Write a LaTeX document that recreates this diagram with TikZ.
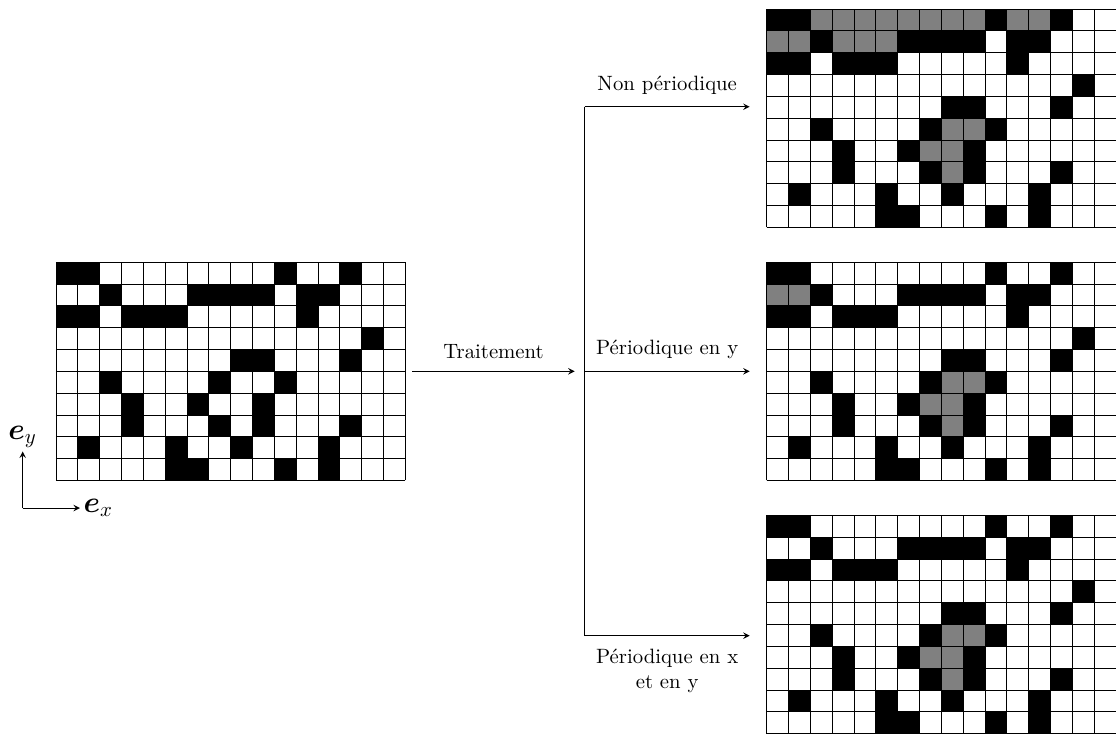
\documentclass[tikz,border=0pt]{standalone}
\usepackage{amsmath}
\usepackage{amssymb}
\usepackage{tikz}

% cases noires (colonne/ligne, ligne 1 en haut)
\newcommand{\noires}{1/1,2/1,11/1,14/1,
  3/2,7/2,8/2,9/2,10/2,12/2,13/2,
  1/3,2/3,4/3,5/3,6/3,12/3,
  15/4,
  9/5,10/5,14/5,
  3/6,8/6,11/6,
  4/7,7/7,10/7,
  4/8,8/8,10/8,14/8,
  2/9,6/9,9/9,13/9,
  6/10,7/10,11/10,13/10}
% pores isoles au centre
\newcommand{\trous}{9/6,10/6,8/7,9/7,9/8}

\begin{document}
\begin{tikzpicture}[x=0.37cm, y=0.37cm,
    noire/.style={fill=black}, grise/.style={fill=gray},
    etiq/.style={font=\Large, inner sep=1.5pt}]
  \useasboundingbox (-2.564,-11.6) rectangle (48.56,22.01);

  % grille initiale
  \foreach \c/\r in \noires {\fill[noire] (\c-1,10-\r) rectangle (\c,11-\r);}
  \draw[step=1] (0,0) grid (16,10);

  % non periodique
  \begin{scope}[shift={(32.56,11.6)}]
    \foreach \c/\r in \noires {\fill[noire] (\c-1,10-\r) rectangle (\c,11-\r);}
    \foreach \c/\r in {3/1,4/1,5/1,6/1,7/1,8/1,9/1,10/1,12/1,13/1,1/2,2/2,4/2,5/2,6/2}
      {\fill[grise] (\c-1,10-\r) rectangle (\c,11-\r);}
    \foreach \c/\r in \trous {\fill[grise] (\c-1,10-\r) rectangle (\c,11-\r);}
    \draw[step=1] (0,0) grid (16,10);
  \end{scope}

  % periodique en y
  \begin{scope}[shift={(32.56,0)}]
    \foreach \c/\r in \noires {\fill[noire] (\c-1,10-\r) rectangle (\c,11-\r);}
    \foreach \c/\r in {1/2,2/2} {\fill[grise] (\c-1,10-\r) rectangle (\c,11-\r);}
    \foreach \c/\r in \trous {\fill[grise] (\c-1,10-\r) rectangle (\c,11-\r);}
    \draw[step=1] (0,0) grid (16,10);
  \end{scope}

  % periodique en x et en y
  \begin{scope}[shift={(32.56,-11.6)}]
    \foreach \c/\r in \noires {\fill[noire] (\c-1,10-\r) rectangle (\c,11-\r);}
    \foreach \c/\r in \trous {\fill[grise] (\c-1,10-\r) rectangle (\c,11-\r);}
    \draw[step=1] (0,0) grid (16,10);
  \end{scope}

  % fleches
  \coordinate (t1) at (16.33,5);
  \coordinate (t2) at (23.76,5);
  \coordinate (haut) at (24.22,17.12);
  \coordinate (milieu) at (24.22,5);
  \coordinate (bas) at (24.22,-7.11);
  \coordinate (np) at (31.78,17.12);
  \coordinate (py) at (31.78,5);
  \coordinate (pxy) at (31.78,-7.11);
  \draw[-stealth] (t1) -- node[above=2.5pt] (trait) {Traitement} (t2);
  \draw (haut) -- (bas);
  \draw[-stealth] (haut) -- node[above=2.5pt] (lnp) {Non périodique} (np);
  \draw[-stealth] (milieu) -- node[above=2.5pt] (lpy) {Périodique en y} (py);
  \draw[-stealth] (bas) -- node[below=3pt, align=center] (lpxy) {Périodique en x\\et en y} (pxy);

  % repere
  \coordinate (orig) at (-1.525,-1.264);
  \coordinate (ex) at (1.1,-1.264);
  \coordinate (ey) at (-1.525,1.33);
  \draw[-stealth] (orig) -- (ex);
  \draw[-stealth] (orig) -- (ey);
  \node[etiq, right] (lex) at (ex) {$\boldsymbol{e}_x$};
  \node[etiq, above] (ley) at (ey) {$\boldsymbol{e}_y$};
\end{tikzpicture}
\end{document}
